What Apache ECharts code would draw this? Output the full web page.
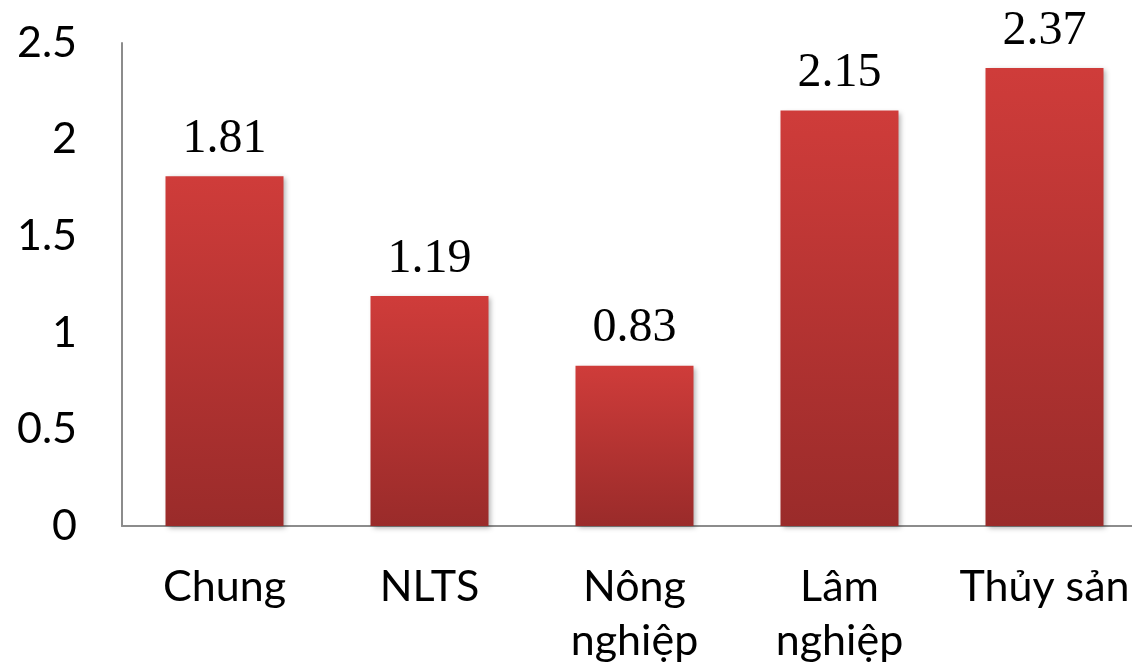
<!DOCTYPE html>
<html>
<head>
<meta charset="utf-8">
<script src="https://cdn.jsdelivr.net/npm/echarts@6/dist/echarts.min.js"></script>
<style>
html,body{margin:0;padding:0;background:#fff;}
#chart{width:1132px;height:670px;}
</style>
</head>
<body>
<div id="chart"></div>
<script>
var categories = ['Chung', 'NLTS', 'Nông\nnghiệp', 'Lâm\nnghiệp', 'Thủy sản'];
var values = [1.81, 1.19, 0.83, 2.15, 2.37];
var yTicks = [0, 0.5, 1, 1.5, 2, 2.5];

var chart = echarts.init(document.getElementById('chart'));
chart.setOption({
  animation: false,
  grid: { left: 122, width: 1025, top: 43, bottom: 144, containLabel: false, outerBoundsMode: 'none' },
  xAxis: {
    type: 'category',
    data: categories,
    axisLine: { show: true, lineStyle: { color: '#8c8c8c', width: 2 } },
    axisTick: { show: false },
    axisLabel: {
      interval: 0,
      margin: 34,
      fontFamily: 'Lato',
      fontSize: 43,
      lineHeight: 54,
      color: '#000'
    }
  },
  yAxis: {
    type: 'value',
    min: 0,
    max: 2.5,
    interval: 0.5,
    axisLine: { show: true, lineStyle: { color: '#8c8c8c', width: 2 } },
    axisTick: { show: false },
    splitLine: { show: false },
    axisLabel: {
      margin: 45,
      fontFamily: 'Lato',
      fontSize: 43,
      color: '#000',
      formatter: function (v) { return yTicks.indexOf(v) >= 0 ? String(v) : ''; }
    }
  },
  series: [{
    type: 'bar',
    data: values,
    barWidth: 118,
    itemStyle: {
      color: new echarts.graphic.LinearGradient(0, 0, 0, 1, [
        { offset: 0, color: '#cf3c3a' },
        { offset: 1, color: '#9a2b2a' }
      ]),
      shadowColor: 'rgba(0,0,0,0.3)',
      shadowBlur: 5,
      shadowOffsetX: 2,
      shadowOffsetY: 2
    },
    label: {
      show: true,
      position: 'top',
      distance: 13,
      fontFamily: 'Liberation Serif',
      fontSize: 48,
      color: '#000',
      formatter: function (p) { return p.value.toFixed(2); }
    }
  }]
});
</script>
</body>
</html>
